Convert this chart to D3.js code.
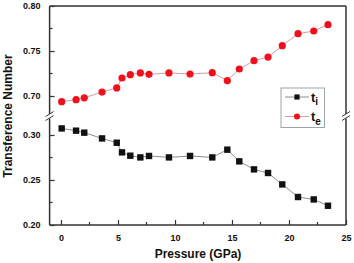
<!DOCTYPE html>
<html><head><meta charset="utf-8">
<script src="https://cdn.jsdelivr.net/npm/d3@7"></script>
<style>body{margin:0;background:#fff}svg{display:block}text{font-family:Arial,"Liberation Sans",sans-serif;font-weight:bold}</style>
</head><body>
<svg id="c" width="354" height="263"></svg>
<script>
const pressure = [0.06,1.32,2.04,3.6,4.89,5.35,6.08,6.96,7.72,9.47,11.32,13.27,14.59,15.64,16.93,18.16,19.41,20.79,22.17,23.42];
const te = [0.6937,0.6959,0.698,0.7044,0.709,0.720,0.7237,0.7256,0.7241,0.7256,0.7244,0.7259,0.717,0.730,0.7392,0.7433,0.7559,0.7692,0.7722,0.7792];
const ti = [0.3073,0.3048,0.3026,0.2962,0.2914,0.2807,0.277,0.2751,0.2767,0.2751,0.2767,0.2751,0.2837,0.2707,0.2618,0.2578,0.2451,0.2311,0.2284,0.2214];
const xTicks = [0,5,10,15,20,25];
const yTicksUpper = [0.70,0.75,0.80];
const yTicksLower = [0.20,0.25,0.30];
const seriesNames = ["t","t"];
const seriesSubs = ["i","e"];

const svg = d3.select("#c");
const L=49.6, R=346, T=6, B=225;
const x = d3.scaleLinear().domain([-1,25]).range([L,R]);
const yU = d3.scaleLinear().domain([0.68,0.80]).range([114,T]);
const yL = d3.scaleLinear().domain([0.20,0.318]).range([B,118.8]);
const axisCol="#333";

// frame
svg.append("line").attr("x1",L).attr("x2",R).attr("y1",T).attr("y2",T).attr("stroke",axisCol).attr("stroke-width",1.3);
svg.append("line").attr("x1",L).attr("x2",R).attr("y1",B).attr("y2",B).attr("stroke",axisCol).attr("stroke-width",1.5);
[L,R].forEach(xx=>{
  svg.append("line").attr("x1",xx).attr("x2",xx).attr("y1",T).attr("y2",114).attr("stroke",axisCol).attr("stroke-width",1.5);
  svg.append("line").attr("x1",xx).attr("x2",xx).attr("y1",118.5).attr("y2",B).attr("stroke",axisCol).attr("stroke-width",1.5);
  [-2,2].forEach(d=>{
    svg.append("line").attr("x1",xx-4).attr("x2",xx+4).attr("y1",116+d+2.5).attr("y2",116+d-2.5).attr("stroke",axisCol).attr("stroke-width",1);
  });
});

// x axis ticks (inward)
const xAxis = d3.axisBottom(x).tickValues(xTicks).tickSize(-5).tickPadding(10).tickFormat(d3.format("d"));
const gx = svg.append("g").attr("transform",`translate(0,${B})`).call(xAxis);
gx.select(".domain").remove();
gx.selectAll(".tick line").attr("stroke",axisCol).attr("stroke-width",1.2);
gx.selectAll("text").attr("font-size",9).attr("fill","#111").attr("font-weight","bold");
[2.5,7.5,12.5,17.5,22.5].forEach(v=>svg.append("line").attr("x1",x(v)).attr("x2",x(v)).attr("y1",B).attr("y2",B-3).attr("stroke",axisCol).attr("stroke-width",1.2));

function yax(scale, ticks, minors){
  const g = svg.append("g").attr("transform",`translate(${L},0)`).call(d3.axisLeft(scale).tickValues(ticks).tickSize(-5).tickPadding(9).tickFormat(d3.format(".2f")));
  g.select(".domain").remove();
  g.selectAll(".tick line").attr("stroke",axisCol).attr("stroke-width",1.2);
  g.selectAll("text").attr("font-size",9).attr("fill","#111").attr("font-weight","bold");
  minors.forEach(v=>svg.append("line").attr("x1",L).attr("x2",L+3).attr("y1",scale(v)).attr("y2",scale(v)).attr("stroke",axisCol).attr("stroke-width",1.2));
}
yax(yU, yTicksUpper, [0.725,0.775]);
yax(yL, yTicksLower, [0.225,0.275]);

// axis titles
svg.append("text").attr("x",198).attr("y",258).attr("text-anchor","middle").attr("font-size",12).attr("fill","#111").text("Pressure (GPa)");
svg.append("text").attr("transform","translate(12,116) rotate(-90)").attr("text-anchor","middle").attr("font-size",12).attr("fill","#111").text("Transference Number");

// series
const lineU = d3.line().x((d,i)=>x(pressure[i])).y(d=>yU(d));
const lineL = d3.line().x((d,i)=>x(pressure[i])).y(d=>yL(d));
svg.append("path").attr("d",lineU(te)).attr("fill","none").attr("stroke","#d99aa8").attr("stroke-width",1);
svg.append("path").attr("d",lineL(ti)).attr("fill","none").attr("stroke","#8a9096").attr("stroke-width",1);
svg.selectAll(".te").data(te).enter().append("circle").attr("cx",(d,i)=>x(pressure[i])).attr("cy",d=>yU(d)).attr("r",3.6).attr("fill","#f0101c");
svg.selectAll(".ti").data(ti).enter().append("rect").attr("x",(d,i)=>x(pressure[i])-3.2).attr("y",d=>yL(d)-3.2).attr("width",6.4).attr("height",6.4).attr("fill","#111");

// legend
const lg = svg.append("g");
lg.append("rect").attr("x",281).attr("y",88).attr("width",43.5).attr("height",39.5).attr("fill","#fff").attr("stroke","#9aa4aa").attr("stroke-width",1);
[0,1].forEach(i=>{
  const yy = i===0?97:116.5;
  lg.append("line").attr("x1",285).attr("x2",309).attr("y1",yy).attr("y2",yy).attr("stroke",i===0?"#8a9096":"#d99aa8").attr("stroke-width",1);
  if(i===0) lg.append("rect").attr("x",297-2.6).attr("y",yy-2.6).attr("width",5.2).attr("height",5.2).attr("fill","#111");
  else lg.append("circle").attr("cx",297).attr("cy",yy).attr("r",3).attr("fill","#f0101c");
  const t = lg.append("text").attr("x",311).attr("y",yy+4.5).attr("font-size",13).attr("fill","#111");
  t.append("tspan").text(seriesNames[i]);
  t.append("tspan").attr("dy",3.5).attr("font-size",10).text(seriesSubs[i]);
});
</script>
</body></html>
